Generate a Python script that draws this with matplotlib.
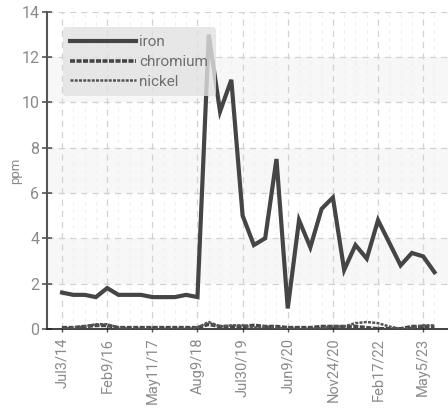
import numpy as np
import matplotlib
matplotlib.use("Agg")
import matplotlib.pyplot as plt
from matplotlib.ticker import FixedLocator

plt.rcParams['font.family'] = ['Roboto', 'DejaVu Sans']

# readings, one per sample
iron = [1.6, 1.5, 1.5, 1.4, 1.8, 1.5, 1.5, 1.5, 1.4, 1.4, 1.4, 1.5, 1.4,
        13.0, 9.6, 11.0, 5.0, 3.7, 4.0, 7.5, 0.9, 4.8, 3.6, 5.3, 5.8,
        2.6, 3.7, 3.1, 4.8, 3.8, 2.8, 3.35, 3.2, 2.5]
chromium = [0.05, 0.05, 0.1, 0.15, 0.15, 0.05, 0.05, 0.05, 0.05, 0.05, 0.05, 0.05, 0.05,
            0.2, 0.1, 0.1, 0.1, 0.15, 0.1, 0.1, 0.05, 0.05, 0.05, 0.1, 0.1,
            0.1, 0.1, 0.05, 0.0, 0.0, 0.0, 0.1, 0.1, 0.1]
nickel = [0.0, 0.05, 0.1, 0.2, 0.2, 0.05, 0.0, 0.0, 0.0, 0.0, 0.0, 0.0, 0.05,
          0.3, 0.1, 0.15, 0.15, 0.05, 0.1, 0.05, 0.0, 0.0, 0.0, 0.05, 0.1,
          0.1, 0.25, 0.3, 0.25, 0.1, 0.0, 0.05, 0.15, 0.15]
tick_labels = ["Jul3/14", "Feb9/16", "May11/17", "Aug9/18", "Jul30/19",
               "Jun9/20", "Nov24/20", "Feb17/22", "May5/23"]

x = np.arange(len(iron))
col = "#454545"

fig = plt.figure(figsize=(4.48, 4.11), dpi=100)
ax = fig.add_axes([0.105, 0.2, 0.895, 0.771])

# alternating bands
for lo in (2, 6, 10):
    ax.axhspan(lo, lo + 2, color="#f7f7f7", zorder=0, lw=0)

ax.plot(x, iron, color=col, lw=3, label="iron", zorder=3, solid_joinstyle="miter")
ax.plot(x, chromium, color=col, lw=2.6, dashes=(1.4, 0.4), label="chromium", zorder=3)
ax.plot(x, nickel, color="#555555", lw=1.8, dashes=(1.2, 0.5), label="nickel", zorder=3)

ax.set_xlim(-1.33, 34.2)
ax.set_ylim(0, 14)
ax.set_yticks(range(0, 15, 2))
ax.xaxis.set_major_locator(FixedLocator(range(0, 33, 4)))
ax.set_xticklabels(tick_labels, rotation=90)
ax.xaxis.set_minor_locator(FixedLocator(x))

ax.grid(which="major", color="#d2d2d2", ls=(0, (5, 4)), lw=0.9)
ax.grid(which="minor", axis="x", color="#f0f0f0", ls=(0, (3, 4)), lw=0.8)
ax.set_axisbelow(True)

for s in ("top", "right"):
    ax.spines[s].set_visible(False)
ax.spines["left"].set_color("#555555")
ax.spines["left"].set_linewidth(1.5)
ax.spines["bottom"].set_color("#222222")
ax.spines["bottom"].set_linewidth(1.2)

ax.tick_params(axis="y", direction="inout", length=7, width=1.2, colors="#555555",
               labelcolor="#8a8a8a", labelsize=11.5, pad=2)
ax.tick_params(axis="x", which="major", direction="inout", length=5, width=1, colors="#555555",
               labelcolor="#8a8a8a", labelsize=10.5, pad=4)
ax.tick_params(axis="x", which="minor", length=0)

ax.set_ylabel("ppm", color="#8a8a8a", fontsize=9.5)
ax.yaxis.set_label_coords(-0.062, 0.5)

leg = ax.legend(loc="upper left", bbox_to_anchor=(0.02, 0.975), fontsize=11,
                handlelength=4.3, handletextpad=0.2, labelspacing=0.38,
                borderpad=0.5, fancybox=True, framealpha=0.8,
                facecolor="#e2e2e2", edgecolor="none")
leg.set_zorder(5)
for t in leg.get_texts():
    t.set_color("#6f6f6f")

fig.savefig("out.png", dpi=100)
